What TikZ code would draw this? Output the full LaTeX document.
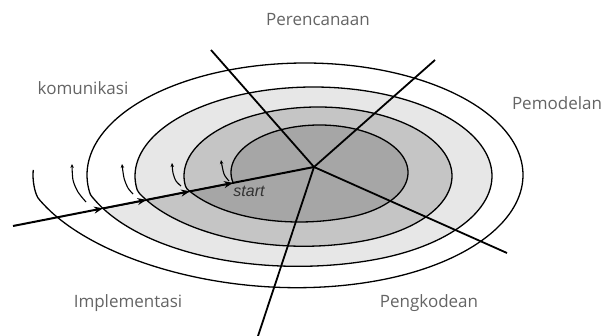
\documentclass[tikz,border=0pt]{standalone}
\usepackage{fontspec}
\setmainfont{Open Sans}
\newfontfamily\startfont{Liberation Sans}
\usetikzlibrary{arrows.meta,calc}
\definecolor{ringlight}{RGB}{231,231,231}
\definecolor{ringmid}{RGB}{197,197,197}
\definecolor{ringdark}{RGB}{166,166,166}
\definecolor{phasegray}{RGB}{100,100,100}

\begin{document}
\begin{tikzpicture}[x=1pt,y=-1pt,declare function={sa(\ang)=sin(90*min(max((\ang-190)/100,0),1)); sb(\ang)=sin(90*min(max((\ang-550)/100,0),1)); spx(\ang,\ca,\cb,\cc,\ra,\rb,\rc)=(\cb+(1-sa(\ang))*(\ca-\cb)+sb(\ang)*(\cc-\cb))+(\rb+(1-sa(\ang))*(\ra-\rb)+sb(\ang)*(\rc-\rb))*cos(\ang); spy(\ang,\ca,\cb,\cc,\ra,\rb,\rc)=(\cb+(1-sa(\ang))*(\ca-\cb)+sb(\ang)*(\cc-\cb))-(\rb+(1-sa(\ang))*(\ra-\rb)+sb(\ang)*(\rc-\rb))*sin(\ang);},turn/.style={draw=black,line width=1.3pt},spoke/.style={draw=black,line width=1.8pt},arr/.style={-{Stealth[length=9pt,width=7pt]},line width=2pt},hook/.style={-{Stealth[length=4pt,width=3.5pt]},line width=1.1pt},phase/.style={font=\fontsize{17}{20}\selectfont,text=phasegray,inner sep=0pt,anchor=base}]
\useasboundingbox (0,0) rectangle (604,336);
% spiral, outer turn to inner turn
\draw[turn] plot[domain=177.7:557.8,samples=150,smooth,variable=\t] ({spx(\t,300,305,313.5,267,218,178.5)},{spy(\t,175,175,176,125,112,89)});
\filldraw[turn,fill=ringlight] plot[domain=197.8:556.1,samples=150,smooth,variable=\t] ({spx(\t,305,313.5,318,218,178.5,134)},{spy(\t,175,176,176,112,89,69)}) -- cycle;
\filldraw[turn,fill=ringmid] plot[domain=196.1:553.2,samples=150,smooth,variable=\t] ({spx(\t,313.5,318,319.5,178.5,134,88.5)},{spy(\t,176,176,172.5,89,69,47.5)}) -- cycle;
\filldraw[turn,fill=ringdark] plot[domain=193.2:552.8,samples=150,smooth,variable=\t] ({spx(\t,318,319.5,319.5,134,88.5,88.5)},{spy(\t,176,172.5,172.5,69,47.5,47.5)}) -- cycle;
% small hooks at each crossing
\draw[hook] plot[smooth] coordinates {(86,202) (78,192) (73,180) (72,164)};
\draw[hook] plot[smooth] coordinates {(133,194) (128,188) (124,178) (122,164)};
\draw[hook] plot[smooth] coordinates {(181,186) (176,181) (173,173) (172,163)};
\draw[hook] plot[smooth] coordinates {(229,181) (224,174) (221,160)};
% phase lines
\coordinate (ctr) at (314,167);
\coordinate (ul) at (211,50);
\coordinate (ur) at (435,60);
\coordinate (lr) at (507,253);
\coordinate (bt) at (258,336);
\coordinate (s0) at (13,226);
\foreach \e in {ul,ur,lr,bt}{\draw[spoke] (ctr)--(\e);}
\foreach \k/\f in {1/0.299,2/0.4435,3/0.588,4/0.731}{\coordinate (p\k) at ($(s0)!\f!(ctr)$);}
\foreach \u/\v in {s0/p1,p1/p2,p2/p3,p3/p4}{\draw[arr] (\u)--(\v);}
\draw[line width=2pt] (p4)--(ctr);
\node[anchor=base,inner sep=0pt,text=black!80,font=\startfont\itshape\fontsize{16}{19}\selectfont] (start) at (249,197) {start};
\node[phase] (plan) at (318,26) {Perencanaan};
\node[phase] (komu) at (83,95) {komunikasi};
\node[phase] (model) at (557,110) {Pemodelan};
\node[phase] (impl) at (128,307) {Implementasi};
\node[phase] (kode) at (429,307) {Pengkodean};
\end{tikzpicture}
\end{document}
